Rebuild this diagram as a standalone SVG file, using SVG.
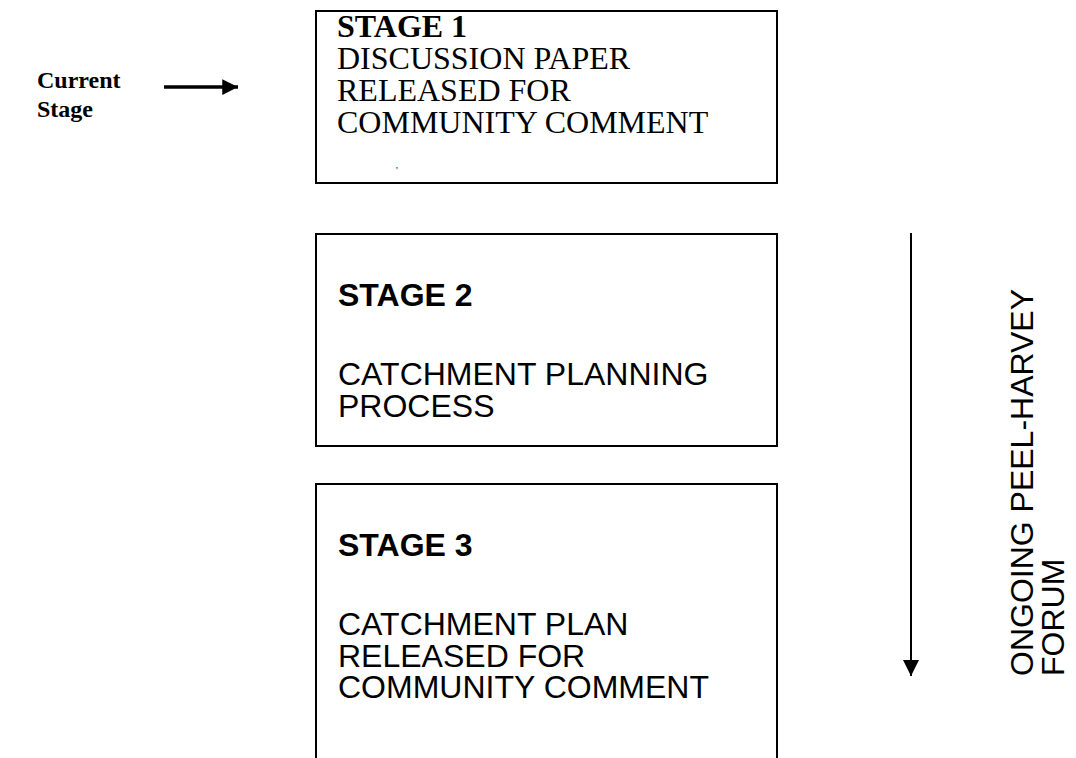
<svg xmlns="http://www.w3.org/2000/svg" width="1076" height="758" viewBox="0 0 1076 758">
<style>
.box{fill:#fff;stroke:#000;stroke-width:2}
.tb{font-family:"Liberation Serif","Times New Roman",serif;font-size:32px;fill:#000}
.ts{font-family:"Liberation Sans",Arial,sans-serif;font-size:32px;fill:#000}
.b{font-weight:bold}
.ln{stroke:#000;fill:none}
</style>
<defs>
<marker id="ah" viewBox="0 0 10 10" refX="10" refY="5" markerWidth="4.5" markerHeight="4.5" orient="auto" markerUnits="strokeWidth"><path d="M0,0L10,5L0,10z" fill="#000"/></marker>
<marker id="ah2" viewBox="0 0 10 10" refX="10" refY="5" markerWidth="8" markerHeight="8" orient="auto" markerUnits="strokeWidth"><path d="M0,0L10,5L0,10z" fill="#000"/></marker>
</defs>
<g id="current-stage">
<text class="tb b" x="37" y="88" style="font-size:24px">Current</text>
<text class="tb b" x="37" y="117" style="font-size:24px">Stage</text>
</g>
<g id="stage1">
<rect class="box" x="316" y="11" width="461" height="172"/>
<text class="tb b" x="337" y="37">STAGE 1</text>
<text class="tb" x="337" y="69">DISCUSSION PAPER</text>
<text class="tb" x="337" y="101">RELEASED FOR</text>
<text class="tb" x="337" y="133">COMMUNITY COMMENT</text>
<text class="tb" x="396" y="174" style="font-size:10px">'</text>
</g>
<g id="stage2">
<rect class="box" x="316" y="234" width="461" height="212"/>
<text class="ts b" x="338" y="306">STAGE 2</text>
<text class="ts" x="338" y="385">CATCHMENT PLANNING</text>
<text class="ts" x="338" y="417">PROCESS</text>
</g>
<g id="stage3">
<rect class="box" x="316" y="484" width="461" height="290"/>
<text class="ts b" x="338" y="556">STAGE 3</text>
<text class="ts" x="338" y="635">CATCHMENT PLAN</text>
<text class="ts" x="338" y="667">RELEASED FOR</text>
<text class="ts" x="338" y="698">COMMUNITY COMMENT</text>
</g>
<g id="forum">
<text class="ts" transform="translate(1033,676) rotate(-90)">ONGOING PEEL-HARVEY</text>
<text class="ts" transform="translate(1064,676) rotate(-90)">FORUM</text>
</g>
<g id="connectors">
<line class="ln" x1="164" y1="87" x2="238" y2="87" stroke-width="3.5" marker-end="url(#ah)"/>
<line class="ln" x1="911" y1="233" x2="911" y2="676" stroke-width="2" marker-end="url(#ah2)"/>
</g>
</svg>
